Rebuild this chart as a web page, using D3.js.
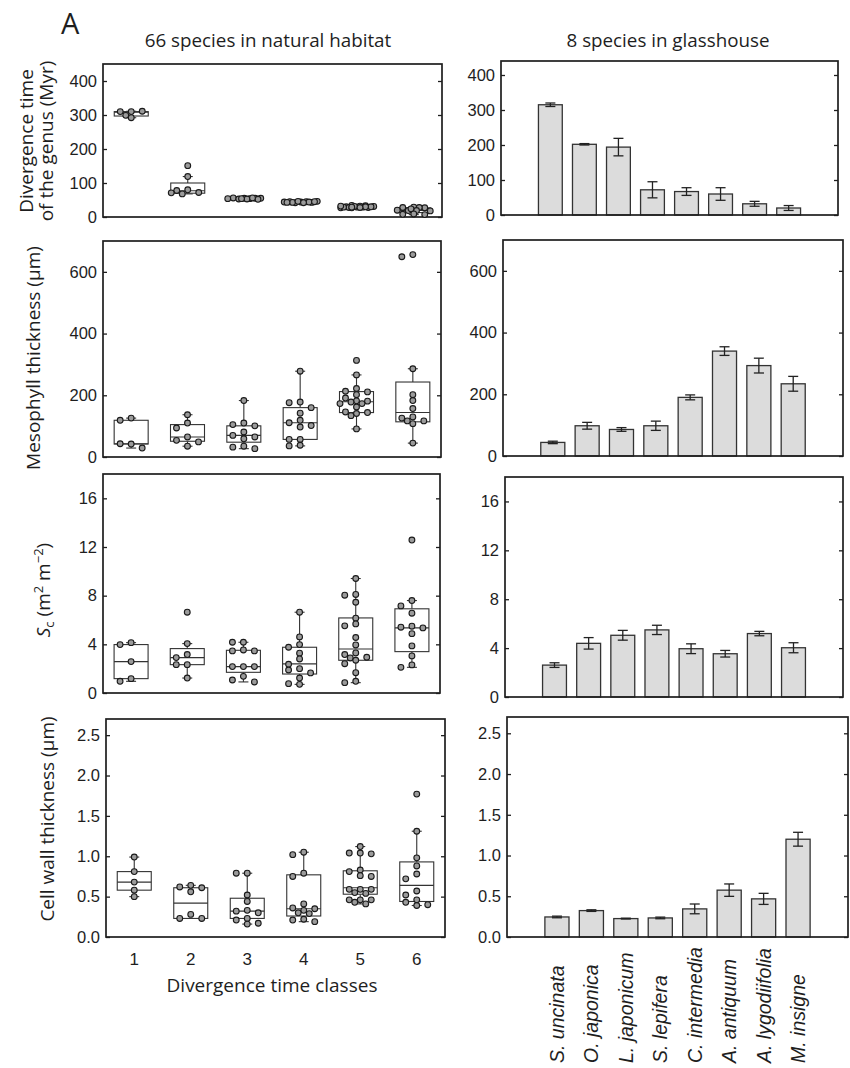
<!DOCTYPE html>
<html>
<head>
<meta charset="utf-8">
<script src="https://d3js.org/d3.v7.min.js"></script>
<style>
body { margin: 0; background: #fff; }
</style>
</head>
<body>
<svg id="fig" width="850" height="1068"></svg>
<script>
// ---- data ----
const classes = ["1", "2", "3", "4", "5", "6"];
const species = ["S. uncinata", "O. japonica", "L. japonicum", "S. lepifera",
    "C. intermedia", "A. antiquum", "A. lygodiifolia", "M. insigne"];

// divergence time of the genus (Myr), 66 species
const divPoints = [
    [310, 310, 311, 299, 292],
    [151, 119, 80, 78, 72, 68, 71],
    [55, 56, 55, 54, 53, 54, 55, 52, 53, 54, 56],
    [44, 45, 43, 46, 44, 42, 45, 43, 44, 46, 42, 45, 43],
    [29, 30, 28, 34, 31, 27, 29, 32, 30, 28, 33, 29, 31, 27, 30, 32, 28, 29],
    [29, 28, 27, 28, 19, 20, 18, 19, 8, 7, 9, 24]
];
// [low whisker, q1, median, q3, high whisker]
const divBox = [
    [292, 297, 308, 310, 311],
    [68, 70, 77, 100, 119],
    [52, 53, 54, 55, 56],
    [42, 43, 44, 45, 46],
    [27, 28, 29, 31, 34],
    [7, 13, 19, 27, 29]
];

// mesophyll thickness (um)
const mesPoints = [
    [126, 119, 42, 43, 29],
    [137, 110, 94, 65, 54, 49, 35],
    [183, 110, 105, 101, 81, 70, 65, 59, 35, 32, 27],
    [278, 178, 176, 160, 142, 119, 111, 102, 97, 57, 57, 38, 36],
    [313, 266, 222, 213, 211, 202, 191, 182, 181, 178, 173, 173, 162, 146, 144, 141, 134, 91],
    [656, 649, 286, 202, 183, 157, 130, 126, 117, 117, 108, 45]
];
const mesBox = [
    [29, 42, 43, 119, 126],
    [35, 51, 65, 105, 137],
    [27, 48, 70, 101, 183],
    [36, 57, 111, 160, 278],
    [91, 144, 179, 212, 266],
    [45, 114, 144, 243, 286]
];

// Sc (m2 m-2)
const scPoints = [
    [4.14, 3.98, 2.58, 1.18, 0.96],
    [6.64, 4.06, 3.16, 2.91, 2.33, 2.33, 1.23],
    [4.17, 4.17, 3.54, 3.46, 3.46, 2.17, 2.17, 2.17, 1.37, 1.07, 0.91],
    [6.64, 4.61, 3.98, 3.76, 3.27, 2.80, 2.36, 2.00, 1.89, 1.65, 1.23, 0.77, 0.71],
    [9.41, 8.10, 8.04, 7.46, 6.15, 5.68, 5.52, 4.56, 3.95, 3.29, 3.16, 2.94, 2.88, 2.69, 2.41, 1.67, 0.96, 0.85],
    [12.57, 7.60, 7.16, 6.56, 5.49, 5.41, 5.35, 4.88, 3.87, 3.05, 2.31, 2.11]
];
const scBox = [
    [0.96, 1.18, 2.58, 3.98, 4.14],
    [1.23, 2.33, 2.91, 3.65, 4.06],
    [0.91, 1.70, 2.17, 3.51, 4.17],
    [0.71, 1.56, 2.39, 3.76, 6.64],
    [0.85, 2.69, 3.62, 6.17, 9.41],
    [2.11, 3.40, 5.35, 6.92, 7.60]
];

// cell wall thickness (um)
const cwPoints = [
    [0.99, 0.81, 0.68, 0.58, 0.50],
    [0.64, 0.62, 0.61, 0.56, 0.28, 0.23, 0.23],
    [0.79, 0.79, 0.52, 0.44, 0.33, 0.32, 0.30, 0.23, 0.21, 0.17, 0.16],
    [1.05, 1.02, 0.79, 0.75, 0.41, 0.36, 0.35, 0.33, 0.30, 0.29, 0.22, 0.21, 0.19],
    [1.12, 1.04, 1.04, 1.03, 0.83, 0.81, 0.76, 0.75, 0.59, 0.59, 0.59, 0.55, 0.54, 0.46, 0.46, 0.46, 0.43, 0.41],
    [1.77, 1.31, 0.98, 0.88, 0.78, 0.72, 0.57, 0.52, 0.46, 0.43, 0.40, 0.39]
];
const cwBox = [
    [0.50, 0.58, 0.68, 0.81, 0.99],
    [0.23, 0.23, 0.42, 0.61, 0.64],
    [0.16, 0.23, 0.32, 0.48, 0.79],
    [0.19, 0.26, 0.35, 0.77, 1.05],
    [0.41, 0.53, 0.61, 0.82, 1.12],
    [0.39, 0.44, 0.64, 0.93, 1.31]
];

// 8 glasshouse species: mean and error
const divMean = [315, 202, 194, 72, 67, 60, 32, 20];
const divErr = [5, 2, 25, 23, 11, 18, 7, 7];
const mesMean = [44, 98, 86, 98, 190, 340, 293, 234];
const mesErr = [4, 11, 6, 15, 8, 14, 24, 24];
const scMean = [2.61, 4.39, 5.05, 5.49, 3.95, 3.54, 5.19, 4.03];
const scErr = [0.19, 0.47, 0.40, 0.38, 0.40, 0.27, 0.18, 0.41];
const cwMean = [0.246, 0.324, 0.226, 0.234, 0.345, 0.575, 0.468, 1.20];
const cwErr = [0.010, 0.010, 0.005, 0.010, 0.060, 0.076, 0.068, 0.085];

const divTicks = [0, 100, 200, 300, 400];
const mesTicks = [0, 200, 400, 600];
const scTicks = [0, 4, 8, 12, 16];
const cwTicks = [0, 0.5, 1, 1.5, 2, 2.5];

// ---- layout ----
const svg = d3.select("#fig");
const tickFont = '"Liberation Sans", Arial, sans-serif';
const labelFont = '"Open Sans", sans-serif';
const ink = "#1e1e1e";

const rows = [
    { pts: divPoints, box: divBox, mean: divMean, err: divErr, ticks: divTicks, fmt: d3.format("d"),
      left: { x0: 103, x1: 442, y0: 64, y1: 217, max: 450 },
      right: { x0: 501, x1: 838, y0: 61, y1: 215, max: 440 } },
    { pts: mesPoints, box: mesBox, mean: mesMean, err: mesErr, ticks: mesTicks, fmt: d3.format("d"),
      left: { x0: 103, x1: 441, y0: 241, y1: 457, max: 700 },
      right: { x0: 503, x1: 843, y0: 240, y1: 456, max: 700 } },
    { pts: scPoints, box: scBox, mean: scMean, err: scErr, ticks: scTicks, fmt: d3.format("d"),
      left: { x0: 103, x1: 440, y0: 474, y1: 693, max: 18 },
      right: { x0: 505, x1: 843, y0: 477, y1: 697, max: 18 } },
    { pts: cwPoints, box: cwBox, mean: cwMean, err: cwErr, ticks: cwTicks, fmt: d3.format(".1f"),
      left: { x0: 106, x1: 445, y0: 719, y1: 937, max: 2.7 },
      right: { x0: 507, x1: 848, y0: 717, y1: 937, max: 2.7 } }
];

function frame(f, y, ticks, fmt) {
    const g = svg.append("g");
    g.append("g")
        .attr("transform", `translate(${f.x0},0)`)
        .call(d3.axisLeft(y).tickValues(ticks).tickFormat(fmt).tickSizeInner(-4).tickSizeOuter(0).tickPadding(6))
        .call(a => a.select(".domain").remove())
        .call(a => a.selectAll("text").attr("font-family", tickFont).attr("font-size", 16.5).attr("fill", ink))
        .call(a => a.selectAll("line").attr("stroke", ink).attr("stroke-width", 1.3));
    g.append("g")
        .attr("transform", `translate(${f.x1},0)`)
        .call(d3.axisRight(y).tickValues(ticks).tickFormat(() => "").tickSizeInner(-4).tickSizeOuter(0))
        .call(a => a.select(".domain").remove())
        .call(a => a.selectAll("line").attr("stroke", ink).attr("stroke-width", 1.3));
    g.append("rect")
        .attr("x", f.x0).attr("y", f.y0)
        .attr("width", f.x1 - f.x0).attr("height", f.y1 - f.y0)
        .attr("fill", "none").attr("stroke", ink).attr("stroke-width", 1.7);
}

// spread points of one class sideways so they do not sit on top of each other
function swarm(values, y) {
    const cols = [0, -11, 11, -5.5, 5.5, -16.5, 16.5, -2.75, 2.75, -8.25, 8.25, -13.75, 13.75];
    const placed = [];
    return values.map(v => {
        const py = y(v);
        let best = 0, bestD = -1;
        for (const c of cols) {
            const d = placed.length ? d3.min(placed, p => Math.hypot(p[0] - c, p[1] - py)) : Infinity;
            if (d >= 5.6) { best = c; break; }
            if (d > bestD) { bestD = d; best = c; }
        }
        placed.push([best, py]);
        return best;
    });
}

function drawBoxes(f, y, pts, box) {
    const x = d3.scalePoint().domain(classes).range([f.x0, f.x1]).padding(0.5);
    const bw = 34, cap = 5;
    const g = svg.append("g");
    classes.forEach((c, i) => {
        const cx = x(c);
        const [lo, q1, md, q3, hi] = box[i];
        const b = g.append("g").attr("stroke", "#333").attr("stroke-width", 1.1).attr("fill", "none");
        b.append("line").attr("x1", cx).attr("x2", cx).attr("y1", y(q3)).attr("y2", y(hi));
        b.append("line").attr("x1", cx).attr("x2", cx).attr("y1", y(q1)).attr("y2", y(lo));
        b.append("line").attr("x1", cx - cap).attr("x2", cx + cap).attr("y1", y(hi)).attr("y2", y(hi));
        b.append("line").attr("x1", cx - cap).attr("x2", cx + cap).attr("y1", y(lo)).attr("y2", y(lo));
        b.append("rect").attr("x", cx - bw / 2).attr("y", y(q3))
            .attr("width", bw).attr("height", Math.max(0.5, y(q1) - y(q3))).attr("fill", "#fff");
        b.append("line").attr("x1", cx - bw / 2).attr("x2", cx + bw / 2).attr("y1", y(md)).attr("y2", y(md));

        const offs = swarm(pts[i], y);
        g.append("g").selectAll("circle").data(pts[i]).join("circle")
            .attr("cx", (d, j) => cx + offs[j])
            .attr("cy", d => y(d))
            .attr("r", 2.9)
            .attr("fill", "#9b9b9b")
            .attr("stroke", "#1a1a1a")
            .attr("stroke-width", 1.1);
    });
    return x;
}

function drawBars(f, y, mean, err) {
    const x = d3.scaleBand().domain(species).range([f.x0, f.x1]).paddingInner(0.3).paddingOuter(1.1);
    const g = svg.append("g");
    g.selectAll("rect").data(species).join("rect")
        .attr("x", d => x(d))
        .attr("y", (d, i) => y(mean[i]))
        .attr("width", x.bandwidth())
        .attr("height", (d, i) => y(0) - y(mean[i]))
        .attr("fill", "#dcdcdc")
        .attr("stroke", "#333")
        .attr("stroke-width", 1.3);
    const e = g.append("g").attr("stroke", "#222").attr("stroke-width", 1.3);
    species.forEach((s, i) => {
        const cx = x(s) + x.bandwidth() / 2;
        const top = y(mean[i] + err[i]), bot = y(mean[i] - err[i]);
        e.append("line").attr("x1", cx).attr("x2", cx).attr("y1", top).attr("y2", bot);
        e.append("line").attr("x1", cx - 5).attr("x2", cx + 5).attr("y1", top).attr("y2", top);
        e.append("line").attr("x1", cx - 5).attr("x2", cx + 5).attr("y1", bot).attr("y2", bot);
    });
    return x;
}

let lastLeftX, lastRightX;
rows.forEach(r => {
    const yl = d3.scaleLinear().domain([0, r.left.max]).range([r.left.y1, r.left.y0]);
    frame(r.left, yl, r.ticks, r.fmt);
    lastLeftX = drawBoxes(r.left, yl, r.pts, r.box);

    const yr = d3.scaleLinear().domain([0, r.right.max]).range([r.right.y1, r.right.y0]);
    lastRightX = drawBars(r.right, yr, r.mean, r.err);
    frame(r.right, yr, r.ticks, r.fmt);
});

// class labels under the last left panel
svg.append("g").selectAll("text").data(classes).join("text")
    .attr("x", d => lastLeftX(d))
    .attr("y", 965)
    .attr("text-anchor", "middle")
    .attr("font-family", tickFont)
    .attr("font-size", 17)
    .attr("fill", ink)
    .text(d => d);

// species names under the last right panel
svg.append("g").selectAll("text").data(species).join("text")
    .attr("transform", d => `translate(${lastRightX(d) + lastRightX.bandwidth() / 2},1063) rotate(-90)`)
    .attr("dy", "0.36em")
    .attr("text-anchor", "start")
    .attr("font-family", tickFont)
    .attr("font-style", "italic")
    .attr("font-size", 19.5)
    .attr("fill", ink)
    .text(d => d);

// titles and axis labels
function label(x, y, txt, rotate, size) {
    return svg.append("text")
        .attr("transform", `translate(${x},${y})` + (rotate ? " rotate(-90)" : ""))
        .attr("text-anchor", "middle")
        .attr("font-family", labelFont)
        .attr("font-size", size || 19)
        .attr("fill", ink)
        .text(txt);
}

svg.append("text").attr("x", 61).attr("y", 34)
    .attr("font-family", labelFont).attr("font-size", 29).attr("fill", ink).text("A");
label(268, 47, "66 species in natural habitat", false, 18.8);
label(668, 47, "8 species in glasshouse", false, 18.8);
label(272, 992, "Divergence time classes");

label(33, 141, "Divergence time", true);
label(53, 141, "of the genus (Myr)", true);
label(40, 358, "Mesophyll thickness (\u00b5m)", true);
label(54, 819, "Cell wall thickness (\u00b5m)", true);

const sc = svg.append("text")
    .attr("transform", "translate(50,590) rotate(-90)")
    .attr("text-anchor", "middle")
    .attr("font-family", labelFont)
    .attr("font-size", 19)
    .attr("fill", ink);
sc.append("tspan").attr("font-style", "italic").text("S");
sc.append("tspan").attr("dy", 4).attr("font-size", 13).text("c");
sc.append("tspan").attr("dy", -4).text(" (m");
sc.append("tspan").attr("dy", -7).attr("font-size", 13).text("2");
sc.append("tspan").attr("dy", 7).text(" m");
sc.append("tspan").attr("dy", -7).attr("font-size", 13).text("\u22122");
sc.append("tspan").attr("dy", 7).text(")");
</script>
</body>
</html>
